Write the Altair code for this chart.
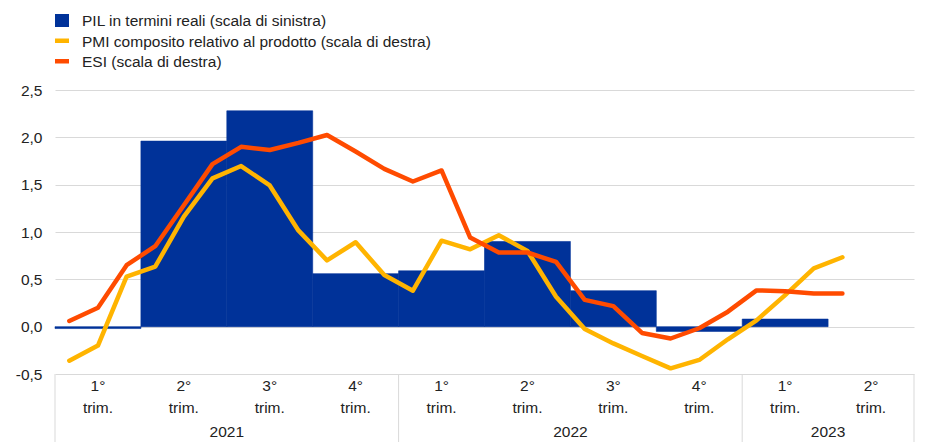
import altair as alt
import pandas as pd

# ---------------- data ----------------
quarter_labels = ["1°", "2°", "3°", "4°", "1°", "2°", "3°", "4°", "1°", "2°"]
years = ["2021", "2022", "2023"]
year_mid_month = [6, 18, 27]
year_bounds = [0, 12, 24, 30]

# real GDP, quarter-on-quarter % (left scale), Q1 2021 .. Q1 2023
gdp = [-0.02, 1.96, 2.28, 0.56, 0.59, 0.90, 0.38, -0.05, 0.08]

# monthly, Jan 2021 .. Apr 2023 (right scale)
pmi = [47.84, 48.8, 53.17, 53.8, 56.97, 59.4, 60.18, 58.95, 56.1, 54.2,
       55.35, 53.27, 52.28, 55.45, 54.9, 55.8, 54.8, 51.9, 49.85, 48.94,
       48.14, 47.36, 47.89, 49.2, 50.4, 52.0, 53.7, 54.4]
esi = [50.36, 51.2, 53.9, 55.1, 57.7, 60.3, 61.4, 61.2, 61.65, 62.15,
       61.1, 60.0, 59.2, 59.9, 55.65, 54.7, 54.7, 54.1, 51.7, 51.3,
       49.6, 49.25, 49.9, 50.95, 52.3, 52.25, 52.1, 52.1]

legend_labels = ["PIL in termini reali (scala di sinistra)",
                 "PMI composito relativo al prodotto (scala di destra)",
                 "ESI (scala di destra)"]

BLUE = "#003299"
YELLOW = "#ffb400"
ORANGE = "#ff4b00"
GRID = "#d9d9d9"
TXT = "#222222"
FONT = "Liberation Sans"
FS = 15.5
W, H = 859, 284

bars_df = pd.DataFrame({
    "start": [3 * i for i in range(len(gdp))],
    "end": [3 * i + 3 for i in range(len(gdp))],
    "gdp": gdp,
    "zero": [0.0] * len(gdp),
})
line_df = pd.DataFrame({"m": [i + 0.5 for i in range(len(pmi))], "pmi": pmi, "esi": esi})
q_df = pd.DataFrame({"mid": [3 * i + 1.5 for i in range(len(quarter_labels))],
                     "q": quarter_labels, "t": ["trim."] * len(quarter_labels)})
yr_df = pd.DataFrame({"mid": year_mid_month, "year": years})
sep_df = pd.DataFrame({"x": year_bounds})

xscale = alt.Scale(domain=[0, 30], nice=False, zero=False)
rscale = alt.Scale(domain=[47, 65], nice=False, zero=False)

label_expr = "replace(replace(format(datum.value, '.1f'), '.', ','), '\u2212', '-')"

bars = alt.Chart(bars_df).mark_rect(color=BLUE, stroke=BLUE, strokeWidth=0.6).encode(
    x=alt.X("start:Q", scale=xscale,
            axis=alt.Axis(values=list(range(31)), labels=False, ticks=False, domain=False,
                          grid=True, gridColor=GRID, gridWidth=1, title=None)),
    x2="end:Q",
    y=alt.Y("gdp:Q", scale=alt.Scale(domain=[-0.5, 2.5], nice=False, zero=False),
            axis=alt.Axis(orient="left", values=[-0.5, 0, 0.5, 1, 1.5, 2, 2.5], title=None,
                          grid=True, gridColor=GRID, gridWidth=1, domain=False, ticks=False,
                          labelExpr=label_expr, labelPadding=13, labelFontSize=FS,
                          labelFont=FONT, labelColor=TXT)),
    y2="zero:Q",
)

pmi_line = alt.Chart(line_df).mark_line(color=YELLOW, strokeWidth=4.5, strokeCap="round",
                                        strokeJoin="round").encode(
    x=alt.X("m:Q", scale=xscale, axis=None),
    y=alt.Y("pmi:Q", scale=rscale,
            axis=alt.Axis(orient="right", values=[47, 50, 53, 56, 59, 62, 65], title=None,
                          grid=False, domain=False, ticks=False, labelPadding=12,
                          labelFontSize=FS, labelFont=FONT, labelColor=TXT)),
)
esi_line = alt.Chart(line_df).mark_line(color=ORANGE, strokeWidth=4.5, strokeCap="round",
                                        strokeJoin="round").encode(
    x=alt.X("m:Q", scale=xscale, axis=None),
    y=alt.Y("esi:Q", scale=rscale, axis=None),
)

qlab = alt.Chart(q_df).mark_text(fontSize=FS, font=FONT, color=TXT, baseline="middle").encode(
    x=alt.X("mid:Q", scale=xscale, axis=None), y=alt.value(H + 12), text="q:N")
tlab = alt.Chart(q_df).mark_text(fontSize=FS, font=FONT, color=TXT, baseline="middle").encode(
    x=alt.X("mid:Q", scale=xscale, axis=None), y=alt.value(H + 34), text="t:N")
ylab = alt.Chart(yr_df).mark_text(fontSize=FS, font=FONT, color=TXT, baseline="middle").encode(
    x=alt.X("mid:Q", scale=xscale, axis=None), y=alt.value(H + 58), text="year:N")
sep = alt.Chart(sep_df).mark_rule(color=GRID, strokeWidth=1).encode(
    x=alt.X("x:Q", scale=xscale, axis=None), y=alt.value(H), y2=alt.value(H + 80))

one = pd.DataFrame({"a": [0]})
legend_layers = []
for i, (lab, col) in enumerate(zip(legend_labels, [BLUE, YELLOW, ORANGE])):
    cy = -69.5 + 20.5 * i
    if i == 0:
        y1, y2 = cy - 6.5, cy + 6.5
    else:
        y1, y2 = cy - 2.5, cy + 2
    legend_layers.append(alt.Chart(one).mark_rect(color=col).encode(
        x=alt.value(0), x2=alt.value(14), y=alt.value(y1), y2=alt.value(y2)))
    legend_layers.append(alt.Chart(one).mark_text(
        text=lab, fontSize=FS, font=FONT, color=TXT, align="left", baseline="middle").encode(
        x=alt.value(27), y=alt.value(cy + 0.5)))

chart = alt.layer(
    bars, alt.layer(pmi_line, esi_line), qlab, tlab, ylab, sep, *legend_layers
).resolve_scale(y="independent").properties(
    width=W, height=H,
    autosize=alt.AutoSizeParams(type="none"),
    padding={"left": 47, "top": 82, "right": 20, "bottom": 68},
).configure_view(stroke=None)

chart.save("out.html", embed_options={"renderer": "svg", "actions": False})
